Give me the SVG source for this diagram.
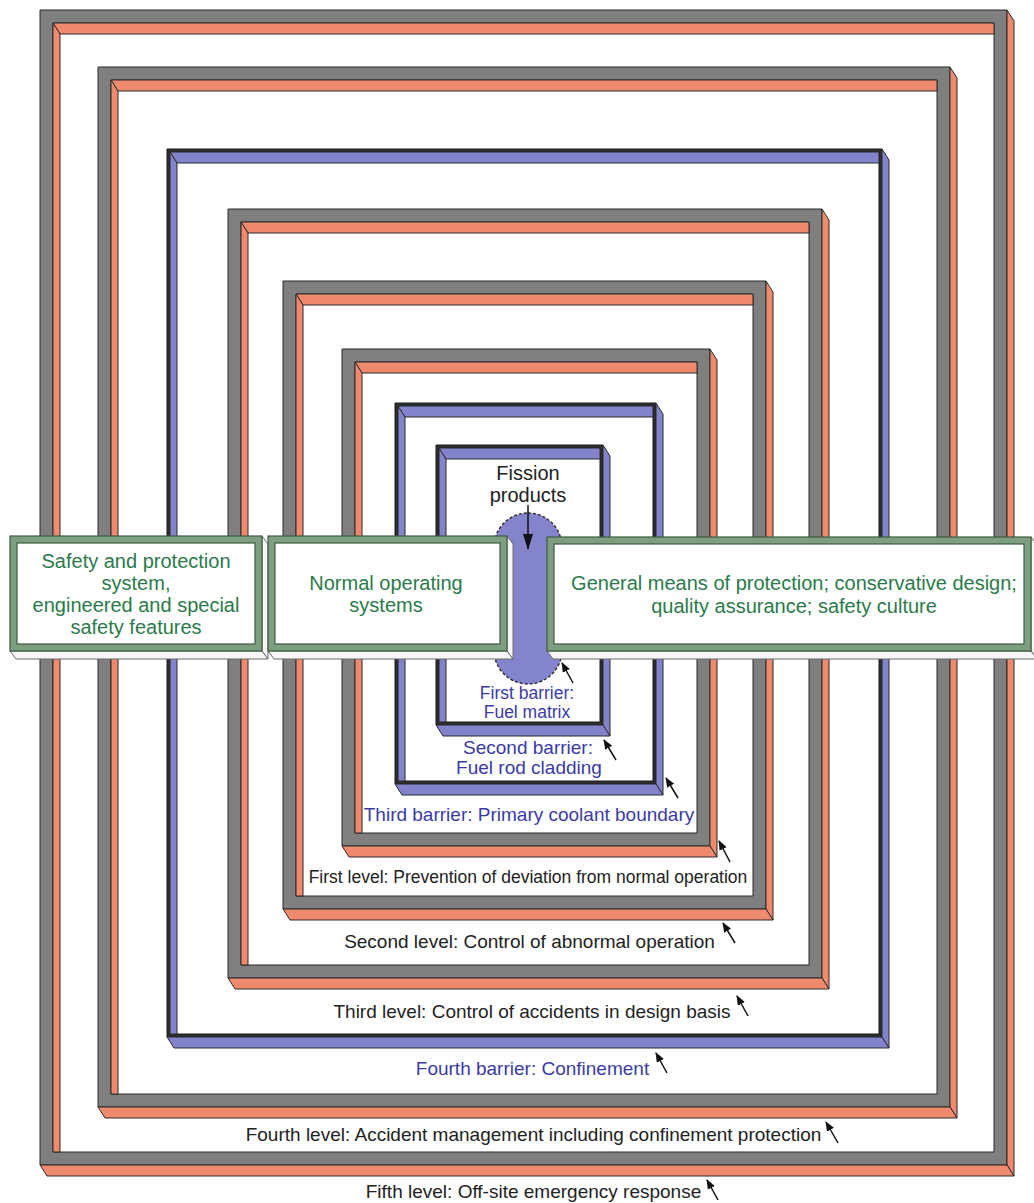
<svg xmlns="http://www.w3.org/2000/svg" width="1034" height="1203" viewBox="0 0 1034 1203">
<defs>
<style>
.g{fill:#7f7f7f;stroke:#2b2b2b;stroke-width:1}
.o{fill:#ef8a6e;stroke:#2b2b2b;stroke-width:1}
.b{fill:#8383cc;stroke:#2b2b2b;stroke-width:1}
.k{fill:#2e2e2e;stroke:#1a1a1a;stroke-width:1}
.gb{fill:#7e9e80;stroke:#3f5a42;stroke-width:1.2}
.gi{fill:#ffffff;stroke:#3f5a42;stroke-width:1.2}
.ex{fill:#f6f6f6;stroke:#6a6a6a;stroke-width:1}
.t{font-family:"Liberation Sans",Arial,Helvetica,sans-serif;text-anchor:middle}
.lab{font-size:19px;fill:#222}
.blu{font-size:19px;fill:#3b3ba6}
.grn{font-size:20px;fill:#2b7a4b}
.ptr{stroke:#111;stroke-width:1.5;fill:none;marker-end:url(#ah)}
</style>
<marker id="ah" viewBox="0 0 10 8" refX="9" refY="4" markerWidth="10" markerHeight="8" markerUnits="userSpaceOnUse" orient="auto"><path d="M0,0 L10,4 L0,8 z" fill="#111"/></marker>
<marker id="bh" viewBox="0 0 16 10" refX="15" refY="5" markerWidth="16" markerHeight="10" markerUnits="userSpaceOnUse" orient="auto"><path d="M0,0 L16,5 L0,10 z" fill="#111"/></marker>
</defs>
<rect x="0" y="0" width="1034" height="1203" fill="#ffffff"/>

<g id="level5">
<path class="g" fill-rule="evenodd" d="M40,10 H1007 V1165 H40 Z M53,23 H994 V1152 H53 Z"/>
<polygon class="o" points="1007,10 1014,21 1014,1176 1007,1165"/>
<polygon class="o" points="40,1165 1007,1165 1014,1176 47,1176"/>
<polygon class="o" points="53,23 994,23 994,34 60,34"/>
<polygon class="o" points="53,23 60,34 60,1152 53,1152"/>
</g>
<g id="level4">
<path class="g" fill-rule="evenodd" d="M98,67 H950 V1107 H98 Z M111,80 H937 V1094 H111 Z"/>
<polygon class="o" points="950,67 957,78 957,1118 950,1107"/>
<polygon class="o" points="98,1107 950,1107 957,1118 105,1118"/>
<polygon class="o" points="111,80 937,80 937,91 118,91"/>
<polygon class="o" points="111,80 118,91 118,1094 111,1094"/>
</g>
<g id="barrier4">
<path class="k" fill-rule="evenodd" d="M167,149 H882 V1037 H167 Z M170,152 H879 V1034 H170 Z"/>
<polygon class="b" points="882,149 889,160 889,1048 882,1037"/>
<polygon class="b" points="167,1037 882,1037 889,1048 174,1048"/>
<polygon class="b" points="170,152 879,152 879,163 177,163"/>
<polygon class="b" points="170,152 177,163 177,1034 170,1034"/>
</g>
<g id="level3">
<path class="g" fill-rule="evenodd" d="M228,209 H822 V978 H228 Z M241,222 H809 V965 H241 Z"/>
<polygon class="o" points="822,209 829,220 829,989 822,978"/>
<polygon class="o" points="228,978 822,978 829,989 235,989"/>
<polygon class="o" points="241,222 809,222 809,233 248,233"/>
<polygon class="o" points="241,222 248,233 248,965 241,965"/>
</g>
<g id="level2">
<path class="g" fill-rule="evenodd" d="M283,281 H766 V909 H283 Z M296,294 H753 V896 H296 Z"/>
<polygon class="o" points="766,281 773,292 773,920 766,909"/>
<polygon class="o" points="283,909 766,909 773,920 290,920"/>
<polygon class="o" points="296,294 753,294 753,305 303,305"/>
<polygon class="o" points="296,294 303,305 303,896 296,896"/>
</g>
<g id="level1">
<path class="g" fill-rule="evenodd" d="M342,349 H710 V846 H342 Z M355,362 H697 V833 H355 Z"/>
<polygon class="o" points="710,349 717,360 717,857 710,846"/>
<polygon class="o" points="342,846 710,846 717,857 349,857"/>
<polygon class="o" points="355,362 697,362 697,373 362,373"/>
<polygon class="o" points="355,362 362,373 362,833 355,833"/>
</g>
<g id="barrier3">
<path class="k" fill-rule="evenodd" d="M395,403 H656 V784 H395 Z M398,406 H653 V781 H398 Z"/>
<polygon class="b" points="656,403 663,414 663,795 656,784"/>
<polygon class="b" points="395,784 656,784 663,795 402,795"/>
<polygon class="b" points="398,406 653,406 653,417 405,417"/>
<polygon class="b" points="398,406 405,417 405,781 398,781"/>
</g>
<g id="barrier2">
<path class="k" fill-rule="evenodd" d="M436,445 H603 V725 H436 Z M439,448 H600 V722 H439 Z"/>
<polygon class="b" points="603,445 610,456 610,736 603,725"/>
<polygon class="b" points="436,725 603,725 610,736 443,736"/>
<polygon class="b" points="439,448 600,448 600,459 446,459"/>
<polygon class="b" points="439,448 446,459 446,722 439,722"/>
</g>
<g id="barrier1">
<rect x="494" y="513" width="68" height="171" rx="34" ry="34" fill="#8484cc" stroke="#222" stroke-width="1.3" stroke-dasharray="3 2"/>
</g>

<g id="boxA">
<polygon class="ex" points="262,536 268,544 268,659 262,651"/>
<polygon class="ex" points="10,651 262,651 268,659 16,659"/>
<rect class="gb" x="10" y="536" width="252" height="115"/>
<rect class="gi" x="17" y="543" width="238" height="101"/>
<text class="t grn" x="136" y="568">Safety and protection</text>
<text class="t grn" x="136" y="590">system,</text>
<text class="t grn" x="136" y="612">engineered and special</text>
<text class="t grn" x="136" y="634">safety features</text>
</g>
<g id="boxB">
<polygon class="ex" points="507,536 513,544 513,659 507,651"/>
<polygon class="ex" points="268,651 507,651 513,659 274,659"/>
<rect class="gb" x="268" y="536" width="239" height="115"/>
<rect class="gi" x="275" y="543" width="225" height="101"/>
<text class="t grn" x="386" y="590">Normal operating</text>
<text class="t grn" x="386" y="612">systems</text>
</g>
<g id="boxC">
<polygon class="ex" points="1031,537 1037,545 1037,659 1031,651"/>
<polygon class="ex" points="547,651 1031,651 1037,659 553,659"/>
<rect class="gb" x="547" y="537" width="484" height="114"/>
<rect class="gi" x="554" y="544" width="470" height="100"/>
<text class="t grn" x="794" y="590">General means of protection; conservative design;</text>
<text class="t grn" x="794" y="613">quality assurance; safety culture</text>
</g>

<g id="labels">
<text class="t" x="528" y="480" style="font-size:20px;fill:#222">Fission</text>
<text class="t" x="528" y="502" style="font-size:20px;fill:#222">products</text>
<text class="t blu" x="527" y="699" style="font-size:17.5px">First barrier:</text>
<text class="t blu" x="527" y="718" style="font-size:17.5px">Fuel matrix</text>
<text class="t blu" x="528" y="754">Second barrier:</text>
<text class="t blu" x="529" y="774">Fuel rod cladding</text>
<text class="t blu" x="529" y="821">Third barrier: Primary coolant boundary</text>
<text class="t lab" x="528" y="883" style="font-size:17.5px">First level: Prevention of deviation from normal operation</text>
<text class="t lab" x="529.5" y="948">Second level: Control of abnormal operation</text>
<text class="t lab" x="532" y="1018">Third level: Control of accidents in design basis</text>
<text class="t blu" x="532.5" y="1075">Fourth barrier: Confinement</text>
<text class="t lab" x="533.5" y="1141">Fourth level: Accident management including confinement protection</text>
<text class="t lab" x="533.5" y="1198">Fifth level: Off-site emergency response</text>
</g>

<g id="connectors">
<line x1="528" y1="505" x2="528" y2="549" stroke="#111" stroke-width="1.5" marker-end="url(#bh)"/>
<line class="ptr" x1="573" y1="683" x2="562" y2="663"/>
<line class="ptr" x1="616" y1="760" x2="604" y2="740"/>
<line class="ptr" x1="678" y1="798" x2="666" y2="778"/>
<line class="ptr" x1="730" y1="862" x2="719" y2="841"/>
<line class="ptr" x1="735" y1="943" x2="723" y2="923"/>
<line class="ptr" x1="748" y1="1016" x2="737" y2="996"/>
<line class="ptr" x1="667" y1="1073" x2="656" y2="1053"/>
<line class="ptr" x1="838" y1="1143" x2="826" y2="1122"/>
<line class="ptr" x1="718" y1="1200" x2="707" y2="1180"/>
</g>
</svg>
